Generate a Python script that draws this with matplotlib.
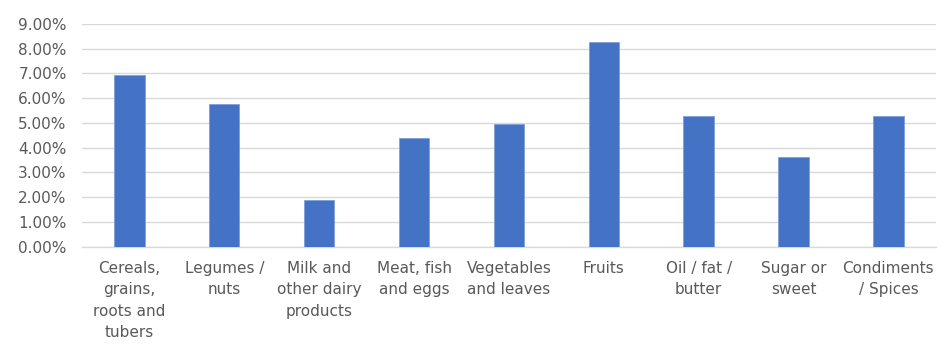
import matplotlib
matplotlib.use("Agg")
import matplotlib.pyplot as plt
from matplotlib.ticker import FuncFormatter, MultipleLocator
from matplotlib import font_manager

categories = ["Cereals,\ngrains,\nroots and\ntubers", "Legumes /\nnuts", "Milk and\nother dairy\nproducts",
              "Meat, fish\nand eggs", "Vegetables\nand leaves", "Fruits", "Oil / fat /\nbutter",
              "Sugar or\nsweet", "Condiments\n/ Spices"]
values = [6.93, 5.77, 1.87, 4.37, 4.95, 8.26, 5.26, 3.61, 5.26]

names = {f.name for f in font_manager.fontManager.ttflist}
fam = "Liberation Sans Narrow" if "Liberation Sans Narrow" in names else "DejaVu Sans"
plt.rcParams['font.family'] = [fam, 'DejaVu Sans']

fig = plt.figure(figsize=(9.52, 3.6), dpi=100)
ax = fig.add_axes([0.0861, 0.3147, 0.983 - 0.0861, 0.934 - 0.3147])
x = range(len(categories))
ax.bar(x, values, width=0.32, color="#4472c4", edgecolor="#7f9fd8", linewidth=0.6, zorder=3)
ax.set_xlim(-0.5, len(categories) - 0.5)
ax.set_ylim(0, 9)
ax.yaxis.set_major_locator(MultipleLocator(1))
ax.yaxis.set_major_formatter(FuncFormatter(lambda v, p: f"{v:.2f}%"))
ax.grid(axis="y", color="#d9d9d9", linewidth=1.0, zorder=0)
for s in ["top", "right", "left"]:
    ax.spines[s].set_visible(False)
ax.spines["bottom"].set_color("#d9d9d9")
ax.spines["bottom"].set_linewidth(1.0)
ax.tick_params(axis="both", length=0, colors="#595959", labelsize=11)
ax.tick_params(axis="y", pad=11)
ax.set_xticks(list(x))
ax.set_xticklabels(categories, linespacing=1.55, va="top")
ax.tick_params(axis="x", pad=10)
fig.savefig("out.png", dpi=100, facecolor="white")
